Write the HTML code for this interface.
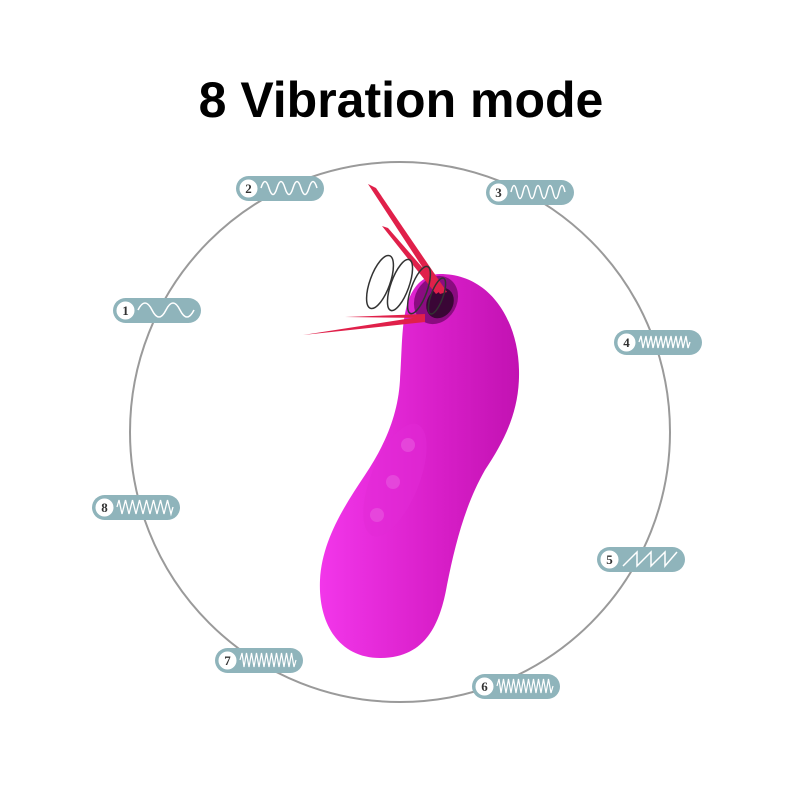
<!DOCTYPE html>
<html><head><meta charset="utf-8"><style>
body{margin:0;background:#fff;}
</style></head><body>
<svg width="800" height="800" viewBox="0 0 800 800" xmlns="http://www.w3.org/2000/svg">
<defs>
<linearGradient id="g" x1="0" y1="0" x2="1" y2="0">
<stop offset="0" stop-color="#f236ea"/><stop offset="0.6" stop-color="#d81ec8"/><stop offset="1" stop-color="#c212b2"/>
</linearGradient>
<symbol id="pill" viewBox="0 0 88 25">
<rect x="0" y="0" width="88" height="25" rx="12.5" fill="#8fb4bb"/>
<circle cx="12.5" cy="12.5" r="9" fill="#fff"/>
</symbol>
</defs>
<text x="401" y="117" text-anchor="middle" font-family="Liberation Sans, sans-serif" font-weight="bold" font-size="50" fill="#000">8 Vibration mode</text>
<circle cx="400" cy="432" r="270" fill="none" stroke="#9a9a9a" stroke-width="2"/>

<!-- device -->
<path d="M440,274 C490,274 518,320 519,370 C520,410 505,440 485,470 C465,505 455,545 447,585 C440,625 425,658 380,658 C340,658 318,625 320,580 C322,540 345,505 365,475 C385,445 398,415 400,380 C403,340 400,300 420,282 C426,277 433,274 440,274 Z" fill="url(#g)"/>
<ellipse cx="436" cy="300" rx="21" ry="25" transform="rotate(30 436 300)" fill="#8a0c80"/>
<ellipse cx="440" cy="303" rx="13" ry="16" transform="rotate(30 440 303)" fill="#3a0636"/>
<ellipse cx="395" cy="480" rx="24" ry="60" transform="rotate(22 395 480)" fill="#e22ad6" opacity="0.5"/>
<circle cx="408" cy="445" r="7" fill="#e85ae0" opacity="0.6"/>
<circle cx="393" cy="482" r="7" fill="#e85ae0" opacity="0.6"/>
<circle cx="377" cy="515" r="7" fill="#e85ae0" opacity="0.6"/>

<!-- red rays -->
<g fill="#e0204a">
<polygon points="368,184 376,188 447,292 440,294"/>
<polygon points="382,226 388,228 442,290 436,294"/>
<polygon points="303,335 425,316 425,322"/>
<polygon points="345,317 425,314 425,318"/>
</g>
<g fill="none" stroke="#333" stroke-width="1.5">
<ellipse cx="380" cy="282" rx="10" ry="28" transform="rotate(20 380 282)"/>
<ellipse cx="400" cy="285" rx="9" ry="27" transform="rotate(20 400 285)"/>
<ellipse cx="419" cy="290" rx="8" ry="25" transform="rotate(20 419 290)"/>
<ellipse cx="437" cy="296" rx="6" ry="19" transform="rotate(20 437 296)"/>
</g>

<!-- labels -->
<g font-family="Liberation Serif, serif" font-weight="bold" font-size="13" text-anchor="middle" fill="#333">
<g transform="translate(113,298)"><use href="#pill" width="88" height="25"/><text x="12.5" y="17">1</text><path d="M25,12 Q32,-2 39,12 T53,12 T67,12 T81,12" stroke="#fff" fill="none" stroke-width="1.5"/></g>
<g transform="translate(236,176)"><use href="#pill" width="88" height="25"/><text x="12.5" y="17">2</text><path d="M25,12 Q29,-1 33,12 T41,12 T49,12 T57,12 T65,12 T73,12 T81,12" stroke="#fff" fill="none" stroke-width="1.5"/></g>
<g transform="translate(486,180)"><use href="#pill" width="88" height="25"/><text x="12.5" y="17">3</text><path d="M25,12 Q28,-1 31,12 T37,12 T43,12 T49,12 T55,12 T61,12 T67,12 T73,12 T79,12" stroke="#fff" fill="none" stroke-width="1.5"/></g>
<g transform="translate(614,330)"><use href="#pill" width="88" height="25"/><text x="12.5" y="17">4</text><path d="M25,12 l2,-6 l2,12 l3,-12 l2,12 l3,-12 l2,12 l3,-12 l2,12 l3,-12 l2,12 l3,-12 l2,12 l3,-12 l2,12 l3,-12 l2,12 l3,-12 l2,12 l3,-12 l2,12 l2,-6" stroke="#fff" fill="none" stroke-width="1.3"/></g>
<g transform="translate(597,547)"><use href="#pill" width="88" height="25"/><text x="12.5" y="17">5</text><path d="M26,19 l14,-14 l0,14 l14,-14 l0,14 l14,-14 l0,14 l12,-14" stroke="#fff" fill="none" stroke-width="1.5"/></g>
<g transform="translate(472,674)"><use href="#pill" width="88" height="25"/><text x="12.5" y="17">6</text><path d="M25,12 l2,-7 l2,14 l2.5,-14 l2.5,14 l2.5,-14 l2.5,14 l2.5,-14 l2.5,14 l2.5,-14 l2.5,14 l2.5,-14 l2.5,14 l2.5,-14 l2.5,14 l2.5,-14 l2.5,14 l2.5,-14 l2.5,14 l2.5,-14 l2.5,14 l2.5,-14 l2.5,14 l2,-7" stroke="#fff" fill="none" stroke-width="1.2"/></g>
<g transform="translate(215,648)"><use href="#pill" width="88" height="25"/><text x="12.5" y="17">7</text><path d="M25,12 l2,-7 l2,14 l2.5,-14 l2.5,14 l2.5,-14 l2.5,14 l2.5,-14 l2.5,14 l2.5,-14 l2.5,14 l2.5,-14 l2.5,14 l2.5,-14 l2.5,14 l2.5,-14 l2.5,14 l2.5,-14 l2.5,14 l2.5,-14 l2.5,14 l2.5,-14 l2.5,14 l2,-7" stroke="#fff" fill="none" stroke-width="1.2"/></g>
<g transform="translate(92,495)"><use href="#pill" width="88" height="25"/><text x="12.5" y="17">8</text><path d="M25,12 l2,-7 l3,14 l3.5,-14 l3.5,14 l3.5,-14 l3.5,14 l3.5,-14 l3.5,14 l3.5,-14 l3.5,14 l3.5,-14 l3.5,14 l3.5,-14 l3.5,14 l3.5,-14 l3.5,14 l2,-7" stroke="#fff" fill="none" stroke-width="1.3"/></g>
</g>
</svg>
</body></html>
